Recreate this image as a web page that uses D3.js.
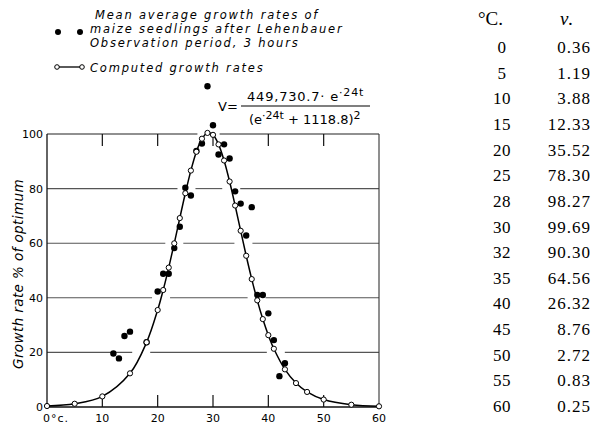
<!DOCTYPE html>
<html>
<head>
<meta charset="utf-8">
<script src="https://cdn.jsdelivr.net/npm/d3@7"></script>
<style>
  body { margin: 0; background: #fff; }
  svg { display: block; }
</style>
</head>
<body>
<svg id="chart" width="595" height="429"></svg>
<script>
const svg = d3.select("#chart");

// computed growth rates (open circles + curve)
const compTemps = [0, 5, 10, 15, 18, 20, 21, 22, 23, 24, 25, 26, 27, 28, 29, 30, 31, 32, 33, 34, 35, 36, 37, 38, 39, 40, 41, 43, 45, 47, 50, 55, 60];
const compRates = [0.36, 1.19, 3.88, 12.33, 23.7, 35.52, 42.85, 51.06, 59.95, 69.2, 78.3, 86.6, 93.5, 98.27, 100.4, 99.69, 96.19, 90.3, 82.6, 73.8, 64.56, 55.4, 46.85, 39.07, 32.2, 26.32, 21.34, 13.79, 8.76, 5.52, 2.72, 0.83, 0.25];

// observed rates after Lehenbauer (filled dots)
const obsTemps = [12, 13, 14, 15, 18, 20, 21, 22, 23, 24, 25, 26, 27, 28, 29, 30, 31, 32, 33, 34, 35, 36, 37, 38, 39, 40, 41, 42, 43];
const obsRates = [19.6, 17.8, 26, 27.6, 23.7, 42.3, 48.8, 48.8, 58.2, 66, 80.3, 77.5, 93.8, 96.5, 117.5, 103.2, 92.5, 96.2, 91, 79, 74.5, 62.8, 73.2, 41, 41, 34.3, 24.5, 11.3, 16];

const xTicks = [0, 10, 20, 30, 40, 50, 60];
const xTickLabels = ["0°c.", "10", "20", "30", "40", "50", "60"];
const yTicks = [0, 20, 40, 60, 80, 100];

// table on the right
const tableTemps = ["0", "5", "10", "15", "20", "25", "28", "30", "32", "35", "40", "45", "50", "55", "60"];
const tableValues = ["0.36", "1.19", "3.88", "12.33", "35.52", "78.30", "98.27", "99.69", "90.30", "64.56", "26.32", "8.76", "2.72", "0.83", "0.25"];

const x = d3.scaleLinear().domain([0, 60]).range([47, 379]);
const y = d3.scaleLinear().domain([0, 100]).range([407, 134]);

const sans = "DejaVu Sans, sans-serif";
const serif = "Liberation Serif, DejaVu Serif, serif";

const comp = compTemps.map((t, i) => ({ t: t, v: compRates[i] }));
const obs = obsTemps.map((t, i) => ({ t: t, v: obsRates[i] }));

// horizontal grid lines, broken where the curve crosses them
const grid = svg.append("g");
[20, 40, 60, 80, 100].forEach(level => {
    let gaps = [];
    for (let i = 1; i < comp.length; i++) {
        const a = comp[i - 1], b = comp[i];
        if ((a.v - level) * (b.v - level) < 0) {
            const t = a.t + (level - a.v) / (b.v - a.v) * (b.t - a.t);
            gaps.push([x(t) - 9, x(t) + 9]);
        }
    }
    const merged = [];
    gaps.forEach(g => {
        const last = merged[merged.length - 1];
        if (last && g[0] <= last[1]) last[1] = Math.max(last[1], g[1]);
        else merged.push(g.slice());
    });
    let start = x(0);
    const segs = [];
    merged.forEach(g => { segs.push([start, g[0]]); start = g[1]; });
    segs.push([start, x(60)]);
    grid.selectAll(null)
        .data(segs)
        .join("line")
        .attr("x1", d => d[0])
        .attr("x2", d => d[1])
        .attr("y1", y(level))
        .attr("y2", y(level))
        .attr("stroke", level === 100 ? "#222" : "#555")
        .attr("stroke-width", 1.1);
});

// frame: left axis, bottom axis, right border
svg.append("line").attr("x1", x(0)).attr("x2", x(0)).attr("y1", y(0)).attr("y2", y(100))
    .attr("stroke", "#111").attr("stroke-width", 1.3);
svg.append("line").attr("x1", x(0)).attr("x2", x(60)).attr("y1", y(0)).attr("y2", y(0))
    .attr("stroke", "#111").attr("stroke-width", 1.3);
svg.append("line").attr("x1", x(60)).attr("x2", x(60)).attr("y1", y(0)).attr("y2", y(100))
    .attr("stroke", "#333").attr("stroke-width", 1.1);

// inner ticks at bottom and top
const innerTicks = xTicks.slice(1, -1);
svg.append("g").selectAll("line")
    .data(innerTicks)
    .join("line")
    .attr("x1", d => x(d)).attr("x2", d => x(d))
    .attr("y1", y(0)).attr("y2", y(0) - 12)
    .attr("stroke", "#111").attr("stroke-width", 1.2);
svg.append("g").selectAll("line")
    .data(innerTicks)
    .join("line")
    .attr("x1", d => x(d)).attr("x2", d => x(d))
    .attr("y1", y(100)).attr("y2", y(100) + 12)
    .attr("stroke", "#111").attr("stroke-width", 1.2);

// tick labels
svg.append("g").selectAll("text")
    .data(yTicks)
    .join("text")
    .attr("x", x(0) - 4)
    .attr("y", d => y(d) + 4)
    .attr("text-anchor", "end")
    .style("font-family", sans)
    .style("font-size", "11px")
    .text(d => d);

svg.append("g").selectAll("text")
    .data(xTicks)
    .join("text")
    .attr("x", (d, i) => i === 0 ? x(d) - 4 : x(d))
    .attr("y", 422)
    .attr("text-anchor", (d, i) => i === 0 ? "start" : "middle")
    .style("font-family", sans)
    .style("font-size", "11px")
    .style("letter-spacing", (d, i) => i === 0 ? "1px" : null)
    .text((d, i) => xTickLabels[i]);

// y axis title
svg.append("text")
    .attr("transform", "translate(23,274) rotate(-90)")
    .attr("text-anchor", "middle")
    .style("font-family", sans)
    .style("font-style", "italic")
    .style("font-size", "13.5px")
    .style("letter-spacing", "0.4px")
    .text("Growth rate % of optimum");

// computed curve
const line = d3.line()
    .x(d => x(d.t))
    .y(d => y(d.v))
    .curve(d3.curveCatmullRom.alpha(0.5));

svg.append("path")
    .datum(comp)
    .attr("d", line)
    .attr("fill", "none")
    .attr("stroke", "#000")
    .attr("stroke-width", 1.5);

// observed points
svg.append("g").selectAll("circle")
    .data(obs)
    .join("circle")
    .attr("cx", d => x(d.t))
    .attr("cy", d => y(d.v))
    .attr("r", 3.2)
    .attr("fill", "#000");

// computed points
svg.append("g").selectAll("circle")
    .data(comp)
    .join("circle")
    .attr("cx", d => x(d.t))
    .attr("cy", d => y(d.v))
    .attr("r", 2.6)
    .attr("fill", "#fff")
    .attr("stroke", "#000")
    .attr("stroke-width", 1);

// legend
const legend = svg.append("g")
    .style("font-family", sans)
    .style("font-style", "italic")
    .style("font-size", "11.5px")
    .style("letter-spacing", "1.8px");
legend.append("text").attr("x", 95).attr("y", 19).text("Mean average growth rates of");
legend.append("text").attr("x", 90).attr("y", 33).text("maize seedlings after Lehenbauer");
legend.append("text").attr("x", 90).attr("y", 47).text("Observation period, 3 hours");
legend.append("text").attr("x", 90).attr("y", 72).text("Computed growth rates");
[58, 80].forEach(cx => {
    legend.append("circle").attr("cx", cx).attr("cy", 32).attr("r", 3).attr("fill", "#000");
});
legend.append("line").attr("x1", 57).attr("x2", 82).attr("y1", 67).attr("y2", 67)
    .attr("stroke", "#000").attr("stroke-width", 1.3);
[57, 82].forEach(cx => {
    legend.append("circle").attr("cx", cx).attr("cy", 67).attr("r", 2.3)
        .attr("fill", "#fff").attr("stroke", "#000").attr("stroke-width", 1);
});

// formula
const f = svg.append("g").style("font-family", sans).style("font-size", "13px");
f.append("text").attr("x", 218).attr("y", 111).text("V=");
const num = f.append("text").attr("x", 247).attr("y", 101).style("letter-spacing", "0.8px");
num.append("tspan").text("449,730.7· e");
num.append("tspan").attr("dy", -5).style("font-size", "11px").text("·24t");
f.append("line").attr("x1", 241).attr("x2", 370).attr("y1", 106).attr("y2", 106)
    .attr("stroke", "#000").attr("stroke-width", 1.1);
const den = f.append("text").attr("x", 249).attr("y", 124);
den.append("tspan").text("(e");
den.append("tspan").attr("dy", -5).style("font-size", "11px").text("·24t");
den.append("tspan").attr("dy", 5).text(" + 1118.8)");
den.append("tspan").attr("dy", -5).style("font-size", "11px").text("2");

// table
const table = svg.append("g").style("font-family", serif).style("font-size", "17px");
table.append("text").attr("x", 478).attr("y", 25).style("font-size", "19px").text("°C.");
table.append("text").attr("x", 560).attr("y", 25).style("font-style", "italic").style("font-size", "19px").text("ν.");
const rowY = d3.scalePoint().domain(tableTemps).range([53, 412]);
table.selectAll(".t")
    .data(tableTemps)
    .join("text")
    .attr("class", "t")
    .attr("x", 502)
    .attr("y", d => rowY(d))
    .attr("text-anchor", "middle")
    .style("letter-spacing", "0.5px")
    .text(d => d);
table.selectAll(".v")
    .data(tableValues)
    .join("text")
    .attr("class", "v")
    .attr("x", 591)
    .attr("y", (d, i) => rowY(tableTemps[i]))
    .attr("text-anchor", "end")
    .style("letter-spacing", "1px")
    .text(d => d);
</script>
</body>
</html>
